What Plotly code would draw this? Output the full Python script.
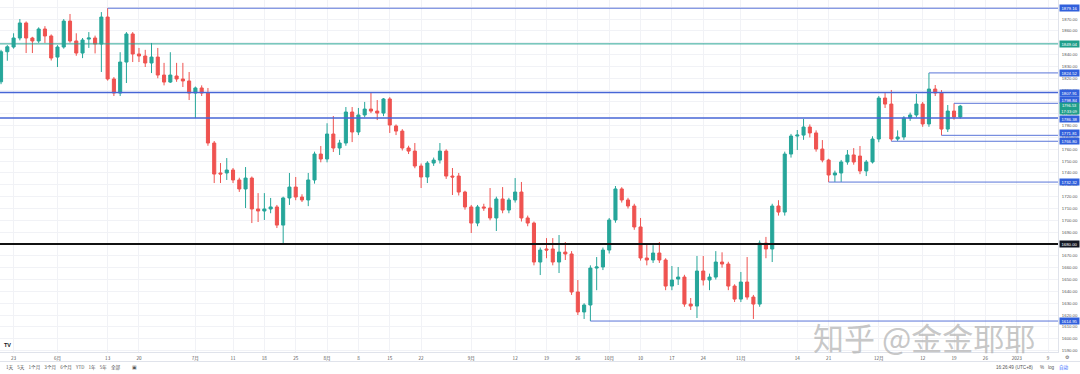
import pandas as pd
import plotly.graph_objects as go

# ---------------- data (XAUUSD daily) ----------------
dates = pd.bdate_range("2022-05-19", periods=154).strftime("%Y-%m-%d").tolist()

opens = [1817.0, 1842.4, 1846.4, 1854.0, 1866.7, 1854.0, 1851.5, 1861.6, 1855.7, 1837.9,
         1846.4, 1868.3, 1851.5, 1841.3, 1853.1, 1854.0, 1848.9, 1871.7, 1819.4, 1807.5,
         1833.7, 1857.4, 1840.5, 1838.8, 1832.9, 1837.9, 1822.7, 1816.8, 1821.9, 1819.4,
         1817.7, 1807.5, 1811.8, 1807.5, 1765.3, 1740.0, 1740.0, 1742.5, 1734.1, 1726.5,
         1735.7, 1709.6, 1707.9, 1709.6, 1711.3, 1696.0, 1718.9, 1728.1, 1719.7, 1717.2,
         1734.1, 1756.0, 1751.8, 1772.9, 1761.1, 1765.3, 1791.5, 1774.6, 1789.0, 1794.0,
         1792.3, 1790.6, 1802.5, 1779.7, 1775.4, 1761.1, 1758.5, 1745.9, 1736.6, 1748.4,
         1750.9, 1758.5, 1737.4, 1737.4, 1723.9, 1711.3, 1697.7, 1711.3, 1710.4, 1702.0,
         1718.0, 1708.7, 1717.2, 1723.9, 1702.0, 1697.7, 1664.8, 1675.8, 1675.8, 1664.8,
         1673.2, 1671.6, 1639.5, 1622.6, 1628.5, 1659.7, 1660.6, 1674.9, 1700.3, 1726.5,
         1717.2, 1712.1, 1694.4, 1668.2, 1666.5, 1672.4, 1666.5, 1644.5, 1650.4, 1652.1,
         1629.3, 1627.6, 1657.2, 1649.6, 1652.1, 1664.8, 1663.1, 1644.5, 1633.5, 1647.9,
         1635.2, 1629.3, 1680.8, 1675.8, 1712.1, 1707.0, 1756.0, 1771.2, 1772.0, 1778.8,
         1773.8, 1760.2, 1750.9, 1738.3, 1740.0, 1749.3, 1755.2, 1754.3, 1741.7, 1749.3,
         1768.7, 1803.3, 1798.2, 1768.7, 1770.4, 1786.4, 1789.0, 1798.2, 1781.4, 1810.9,
         1807.5, 1777.1, 1792.3, 1787.3]
highs = [1844.0, 1848.0, 1858.0, 1870.0, 1868.0, 1855.0, 1863.0, 1864.0, 1857.0, 1848.0,
         1870.0, 1874.3, 1858.0, 1854.0, 1859.0, 1856.0, 1875.9, 1879.2, 1821.0, 1842.0,
         1859.0, 1859.0, 1845.6, 1844.0, 1849.8, 1845.6, 1833.0, 1842.0, 1833.0, 1833.0,
         1825.3, 1813.0, 1814.0, 1811.8, 1767.0, 1748.4, 1752.6, 1744.2, 1736.0, 1745.0,
         1737.0, 1723.0, 1723.0, 1718.9, 1713.0, 1720.0, 1740.0, 1736.6, 1722.0, 1740.0,
         1758.0, 1762.8, 1782.0, 1788.1, 1768.0, 1795.7, 1795.7, 1794.9, 1800.0, 1807.9,
         1801.6, 1803.3, 1804.0, 1781.0, 1777.0, 1763.0, 1765.3, 1748.0, 1750.0, 1753.0,
         1765.3, 1760.0, 1744.2, 1740.0, 1725.0, 1713.0, 1713.0, 1714.0, 1727.3, 1720.0,
         1728.1, 1719.0, 1735.7, 1732.4, 1704.0, 1699.0, 1677.0, 1685.0, 1685.0, 1687.6,
         1681.7, 1674.0, 1649.6, 1630.0, 1662.0, 1669.0, 1677.0, 1702.0, 1729.0, 1728.0,
         1719.0, 1714.0, 1702.0, 1680.8, 1679.0, 1681.7, 1668.0, 1661.4, 1660.6, 1654.0,
         1634.4, 1669.9, 1669.9, 1655.0, 1674.0, 1673.0, 1665.0, 1646.0, 1656.4, 1669.0,
         1637.0, 1683.0, 1686.0, 1714.0, 1717.0, 1758.0, 1773.0, 1776.3, 1785.6, 1781.0,
         1776.0, 1767.8, 1752.0, 1742.0, 1751.0, 1759.4, 1761.0, 1762.8, 1751.0, 1771.0,
         1805.0, 1807.5, 1810.1, 1776.0, 1788.0, 1791.0, 1806.7, 1800.0, 1824.5, 1814.3,
         1810.0, 1797.4, 1798.8, 1797.5]
lows = [1815.0, 1834.8, 1845.0, 1852.0, 1841.3, 1841.3, 1849.8, 1849.8, 1835.0, 1829.5,
        1845.0, 1850.0, 1839.0, 1837.0, 1845.6, 1841.0, 1825.3, 1818.0, 1805.0, 1805.0,
        1816.0, 1833.7, 1833.7, 1829.5, 1824.4, 1820.0, 1814.0, 1816.0, 1817.0, 1812.6,
        1801.6, 1786.4, 1805.0, 1763.0, 1731.5, 1731.5, 1734.1, 1731.5, 1724.0, 1710.4,
        1697.7, 1698.6, 1700.3, 1706.0, 1693.5, 1680.8, 1713.0, 1717.0, 1715.5, 1712.0,
        1731.0, 1749.0, 1749.0, 1757.7, 1755.2, 1763.0, 1766.1, 1772.0, 1787.0, 1790.6,
        1784.7, 1788.0, 1773.8, 1772.0, 1759.0, 1756.0, 1744.0, 1727.3, 1731.5, 1746.0,
        1748.0, 1735.0, 1721.4, 1721.0, 1709.0, 1689.3, 1695.0, 1708.0, 1700.0, 1691.0,
        1706.0, 1706.0, 1715.0, 1699.0, 1695.0, 1662.0, 1653.8, 1668.0, 1662.0, 1655.5,
        1666.5, 1637.0, 1620.0, 1616.7, 1614.95, 1641.0, 1658.0, 1672.0, 1698.0, 1715.0,
        1710.0, 1692.0, 1666.0, 1662.0, 1664.0, 1664.0, 1641.0, 1641.0, 1645.4, 1627.0,
        1624.3, 1617.5, 1645.0, 1641.0, 1650.0, 1660.0, 1641.0, 1631.0, 1631.0, 1633.0,
        1616.7, 1627.0, 1668.0, 1664.8, 1704.0, 1704.0, 1753.0, 1759.4, 1768.0, 1770.0,
        1758.0, 1749.0, 1732.3, 1732.4, 1732.4, 1747.0, 1747.0, 1739.0, 1737.4, 1748.0,
        1766.0, 1794.9, 1766.8, 1767.0, 1768.0, 1784.0, 1787.0, 1779.0, 1779.0, 1805.0,
        1771.8, 1774.6, 1785.0, 1786.0]
closes = [1842.4, 1846.6, 1854.0, 1866.7, 1854.0, 1851.5, 1861.6, 1855.7, 1837.1, 1846.4,
          1868.3, 1851.5, 1841.3, 1852.3, 1854.0, 1848.9, 1871.7, 1819.4, 1807.5, 1833.7,
          1857.4, 1840.5, 1838.8, 1832.9, 1837.9, 1822.7, 1816.8, 1822.7, 1819.4, 1817.7,
          1807.5, 1811.8, 1807.5, 1765.3, 1739.1, 1739.1, 1742.5, 1734.1, 1726.5, 1735.7,
          1709.6, 1707.9, 1709.6, 1711.3, 1696.0, 1718.9, 1728.1, 1719.7, 1717.2, 1734.1,
          1756.0, 1751.8, 1772.9, 1761.1, 1765.3, 1791.5, 1774.6, 1789.0, 1794.0, 1792.3,
          1790.6, 1802.5, 1780.5, 1775.4, 1761.1, 1758.5, 1745.9, 1736.6, 1748.4, 1750.9,
          1758.5, 1737.4, 1736.6, 1723.9, 1711.3, 1697.7, 1711.3, 1710.4, 1702.0, 1718.0,
          1708.7, 1717.2, 1723.9, 1702.0, 1697.7, 1664.8, 1674.9, 1674.9, 1664.8, 1673.2,
          1671.6, 1639.5, 1622.6, 1628.5, 1659.7, 1660.6, 1674.9, 1700.3, 1726.5, 1717.2,
          1712.1, 1694.4, 1668.2, 1666.5, 1672.4, 1666.5, 1644.5, 1649.6, 1652.1, 1629.3,
          1627.6, 1657.2, 1649.6, 1652.1, 1664.8, 1663.1, 1644.5, 1633.5, 1647.9, 1635.2,
          1629.3, 1680.8, 1675.8, 1712.1, 1707.0, 1756.0, 1771.2, 1772.0, 1778.8, 1773.8,
          1760.2, 1750.9, 1738.3, 1740.0, 1749.3, 1755.2, 1749.3, 1741.7, 1749.3, 1768.7,
          1803.3, 1798.2, 1768.7, 1770.4, 1786.4, 1789.0, 1798.2, 1781.4, 1810.9, 1807.5,
          1777.1, 1792.3, 1787.3, 1796.5]

# horizontal levels
full_levels = [1849.04, 1807.91, 1786.38, 1680.00]
full_colors = ["#2aa596", "#4766d6", "#4766d6", "#111111"]
full_widths = [1.0, 1.5, 1.5, 2.2]
ray_levels = [1879.16, 1824.52, 1798.84, 1771.81, 1766.80, 1732.32, 1614.95]
ray_starts = ["2022-06-13", "2022-12-13", "2022-12-19", "2022-12-15", "2022-12-05",
              "2022-11-21", "2022-09-28"]

tick_dates = ["2022-05-23", "2022-06-01", "2022-06-13", "2022-06-20", "2022-07-01",
              "2022-07-11", "2022-07-18", "2022-07-25", "2022-08-01", "2022-08-08",
              "2022-08-15", "2022-08-22", "2022-09-01", "2022-09-12", "2022-09-19",
              "2022-09-26", "2022-10-03", "2022-10-10", "2022-10-17", "2022-10-24",
              "2022-11-01", "2022-11-14", "2022-11-21", "2022-12-01", "2022-12-12",
              "2022-12-19", "2022-12-26", "2023-01-02", "2023-01-09"]
tick_texts = ["23", "6月", "13", "20", "7月", "11", "18", "25", "8月", "8", "15", "22",
              "9月", "12", "19", "26", "10月", "10", "17", "24", "11月", "14", "21",
              "12月", "12", "19", "26", "2023", "9"]

last_price = 1796.53
countdown = "17:33:09"

# ---------------- figure ----------------
GREEN = "#26a69a"
RED = "#ef5350"
X_START = "2022-05-18 20:00"
X_END = "2023-01-10 14:00"
FONT = "Liberation Sans"

fig = go.Figure()
fig.add_trace(go.Candlestick(
    x=dates, open=opens, high=highs, low=lows, close=closes,
    increasing=dict(line=dict(color=GREEN, width=1), fillcolor=GREEN),
    decreasing=dict(line=dict(color=RED, width=1), fillcolor=RED),
    whiskerwidth=0, hoverinfo="skip", showlegend=False,
))

shapes = []
for lv, col, w in zip(full_levels, full_colors, full_widths):
    shapes.append(dict(type="line", xref="paper", x0=0, x1=1, yref="y", y0=lv, y1=lv,
                       line=dict(color=col, width=w), layer="above"))
for lv, st in zip(ray_levels, ray_starts):
    shapes.append(dict(type="line", xref="x", x0=st, x1=X_END, yref="y", y0=lv, y1=lv,
                       line=dict(color="#5a75d8", width=1), layer="above"))
# bottom separator line
shapes.append(dict(type="line", xref="paper", x0=0, x1=1.03, yref="paper",
                   y0=-0.027, y1=-0.027, line=dict(color="#e0e3eb", width=1)))

annotations = []
BLUE_BOX = "#3160dc"
box_specs = [(1879.16, BLUE_BOX, 0), (1849.04, "#1f9e8a", 0), (1824.52, BLUE_BOX, 0),
             (1807.91, BLUE_BOX, 0), (1798.84, BLUE_BOX, 3), (1786.38, BLUE_BOX, -1),
             (1771.81, BLUE_BOX, 2), (1766.80, BLUE_BOX, 0), (1732.32, BLUE_BOX, 0),
             (1680.00, "#131722", 0), (1614.95, BLUE_BOX, 0)]
for price, col, ys in box_specs:
    annotations.append(dict(x=1, xref="paper", y=price, yref="y", xanchor="left",
                            yanchor="middle", xshift=1, yshift=ys,
                            text=f"{price:.2f}", showarrow=False,
                            font=dict(size=4.3, color="white", family=FONT),
                            bgcolor=col, width=19, height=6, borderpad=0))
annotations.append(dict(x=1, xref="paper", y=last_price, yref="y", xanchor="left",
                        yanchor="top", xshift=1, yshift=4,
                        text=f"{last_price:.2f}<br>{countdown}", showarrow=False,
                        font=dict(size=4.0, color="white", family=FONT),
                        bgcolor="#1f9e8a", width=19, height=11, borderpad=0))

def txt(x, y, s, size=4.5, color="#555555", anchor="center", family=FONT, **kw):
    annotations.append(dict(x=x, y=y, xref="paper", yref="paper", text=s,
                            showarrow=False, xanchor=anchor, yanchor="middle",
                            font=dict(size=size, color=color, family=family), **kw))

H = 352.0
W = 1058.0
def py(p):
    return (H - p) / H
def px(p):
    return p / W

# toolbar
txt(px(4), py(367), "1天    5天    1个月    3个月    6个月    YTD    1年    5年    全部",
    size=4.6, anchor="left", family="Noto Sans CJK SC")
txt(px(134), py(367), "▣", size=5)
txt(px(1015), py(367), "16:26:49 (UTC+8)", size=4.6)
txt(px(1042), py(367), "%", size=4.6)
txt(px(1051), py(367), "log", size=4.6)
txt(px(1064), py(367), "自动", size=4.6, color="#2962ff", family="Noto Sans CJK SC")
txt(px(1067), py(357), "⚙", size=5, family="DejaVu Sans")
# TV logo
txt(px(7), py(345), "<b>TV</b>", size=5.5, color="#131722")
# watermark
txt(px(924), py(336), "知乎 @金金耶耶", size=31, color="rgba(175,175,175,0.7)",
    family="Noto Sans CJK SC")

fig.update_layout(
    width=1080, height=374,
    margin=dict(l=0, r=22, t=0, b=22, autoexpand=False),
    paper_bgcolor="white", plot_bgcolor="white",
    showlegend=False, hovermode=False,
    shapes=shapes, annotations=annotations,
    xaxis=dict(type="date", range=[X_START, X_END], automargin=False,
               rangebreaks=[dict(bounds=["sat", "mon"])],
               rangeslider=dict(visible=False),
               tickmode="array", tickvals=tick_dates, ticktext=tick_texts,
               showgrid=True, gridcolor="#f1f2f6", gridwidth=1,
               showline=True, linecolor="#e0e3eb", linewidth=1, mirror=False,
               ticks="", ticklabelstandoff=1,
               tickfont=dict(size=4.6, color="#555555", family="Noto Sans CJK SC"),
               zeroline=False, fixedrange=True),
    yaxis=dict(side="right", range=[1588.8, 1886.1], tickmode="linear", tick0=1590,
               dtick=10, tickformat=".2f", automargin=False,
               showgrid=True, gridcolor="#f1f2f6", gridwidth=1,
               showline=True, linecolor="#e0e3eb", linewidth=1,
               ticks="", ticklabelstandoff=2,
               tickfont=dict(size=4.3, color="#555555", family=FONT),
               zeroline=False, fixedrange=True),
)

fig.write_html(
    "out.html",
    config={"displayModeBar": False},
    post_script="document.body.style.margin='0';document.body.style.padding='0';"
                "document.body.style.overflow='hidden';",
)
